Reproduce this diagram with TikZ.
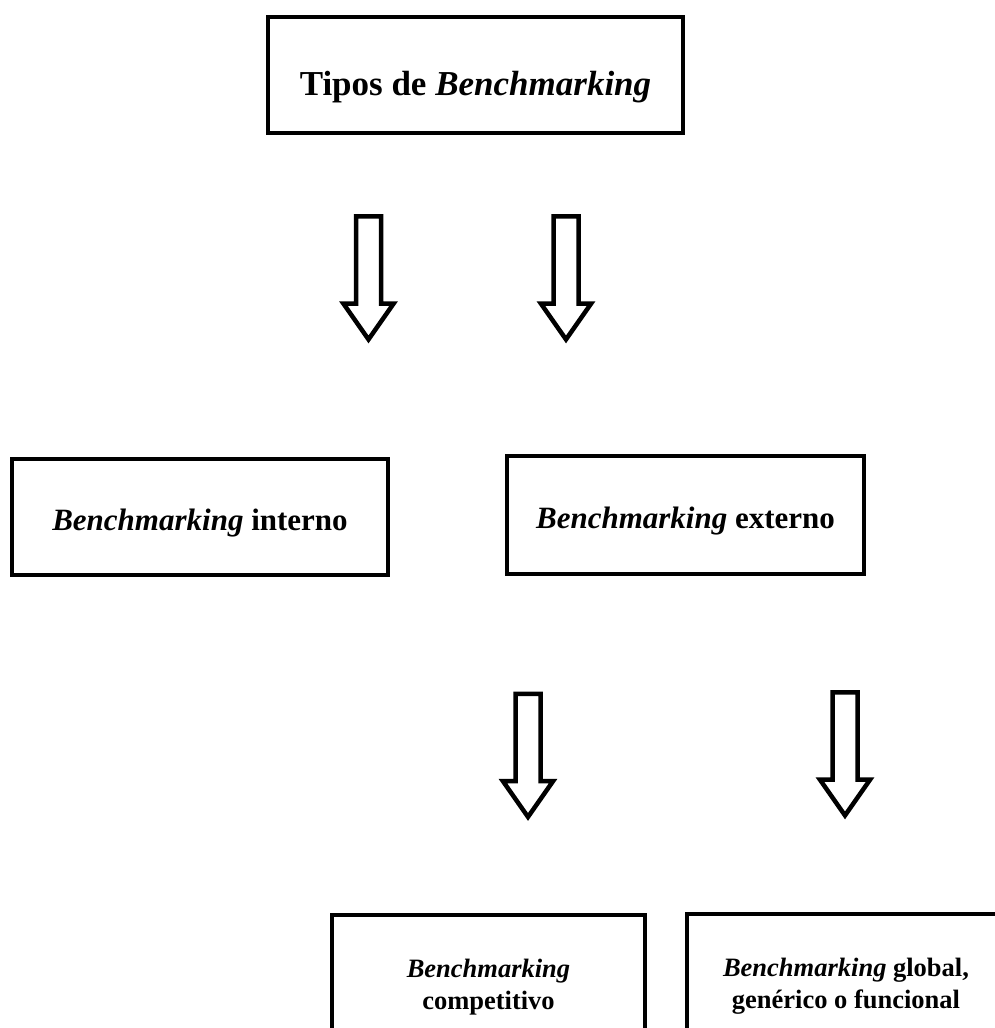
\documentclass[tikz,border=0pt]{standalone}
\usepackage{fontspec}
\setmainfont{Liberation Serif}
\usetikzlibrary{shapes.arrows}

\begin{document}
\begin{tikzpicture}[x=1pt, y=-1pt,
        tipo/.style={rectangle, draw, line width=4pt, align=center, inner sep=0pt},
        flecha/.style={single arrow, draw, line width=4.5pt, shape border rotate=270,
            minimum height=123pt, inner sep=10.25pt, single arrow head extend=12.5pt,
            single arrow tip angle=70}]
        \clip (0,0) rectangle (995,1028);
        \fill[white] (0,0) rectangle (995,1028);

        \node[tipo, minimum width=415pt, minimum height=116pt, text height=48pt, text depth=8pt,
            font=\fontsize{35}{41}\selectfont\bfseries] (tipos) at (475.5,75) {Tipos de \textit{Benchmarking}};

        \node[flecha] (f1) at (368.5,269) {};
        \node[flecha] (f2) at (566,269) {};

        \node[tipo, minimum width=376pt, minimum height=116pt, text height=33pt, text depth=7pt,
            font=\fontsize{31}{37}\selectfont\bfseries] (interno) at (200,517) {\textit{Benchmarking} interno};
        \node[tipo, minimum width=357pt, minimum height=118pt, text height=33pt, text depth=7pt,
            font=\fontsize{31}{37}\selectfont\bfseries] (externo) at (685.5,515) {\textit{Benchmarking} externo};

        \node[flecha] (f3) at (528,746.5) {};
        \node[flecha] (f4) at (845,745) {};

        \node[tipo, minimum width=313pt, minimum height=144pt,
            font=\fontsize{26.5}{32}\selectfont\bfseries] (competitivo) at (488.5,987) {\textit{Benchmarking}\\competitivo};
        \node[tipo, minimum width=318pt, minimum height=144pt,
            font=\fontsize{26.5}{32}\selectfont\bfseries] (global) at (846,986) {\textit{Benchmarking} global,\\genérico o funcional};
\end{tikzpicture}
\end{document}
